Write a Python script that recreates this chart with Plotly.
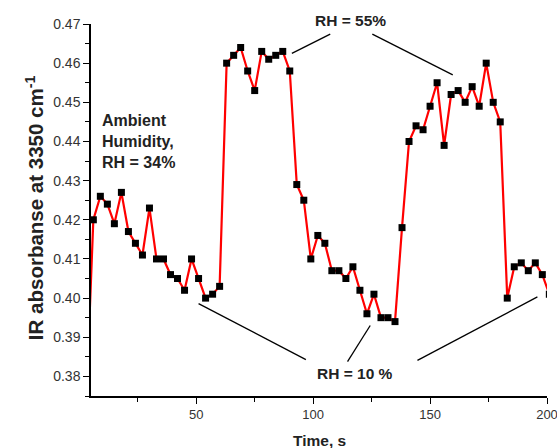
import plotly.graph_objects as go

time_s = [3, 6, 9, 12, 15, 18, 21, 24, 27, 30, 33, 36, 39, 42, 45, 48, 51, 54, 57, 60,
          63, 66, 69, 72, 75, 78, 81, 84, 87, 90, 93, 96, 99, 102, 105, 108, 111, 114,
          117, 120, 123, 126, 129, 132, 135, 138, 141, 144, 147, 150, 153, 156, 159, 162,
          165, 168, 171, 174, 177, 180, 183, 186, 189, 192, 195, 198, 201]
absorbance = [0.374, 0.420, 0.426, 0.424, 0.419, 0.427, 0.417, 0.414, 0.411, 0.423,
              0.410, 0.410, 0.406, 0.405, 0.402, 0.410, 0.405, 0.400, 0.401, 0.403,
              0.460, 0.462, 0.464, 0.458, 0.453, 0.463, 0.461, 0.462, 0.463, 0.458,
              0.429, 0.425, 0.410, 0.416, 0.414, 0.407, 0.407, 0.405, 0.408, 0.402,
              0.396, 0.401, 0.395, 0.395, 0.394, 0.418, 0.440, 0.444, 0.443, 0.449,
              0.455, 0.439, 0.452, 0.453, 0.450, 0.454, 0.449, 0.460, 0.450, 0.445,
              0.400, 0.408, 0.409, 0.407, 0.409, 0.406, 0.401]

x_ticks = [50, 100, 150, 200]
y_ticks = [0.38, 0.39, 0.40, 0.41, 0.42, 0.43, 0.44, 0.45, 0.46, 0.47]
y_tick_labels = ["0.38", "0.39", "0.40", "0.41", "0.42", "0.43", "0.44", "0.45", "0.46", "0.47"]

FONT = "Liberation Sans, Arial, sans-serif"

fig = go.Figure()
fig.add_trace(go.Scatter(
    x=time_s, y=absorbance, mode="lines+markers",
    line=dict(color="#ff0000", width=2.2),
    marker=dict(symbol="square", size=7, color="black"),
    showlegend=False,
))

# annotation leader lines
lines = [
    (107.3, 0.4674, 90.9, 0.4625),
    (125.3, 0.4674, 159.7, 0.4570),
    (51.0, 0.3986, 96.9, 0.3843),
    (124.4, 0.3930, 114.7, 0.3838),
    (195.9, 0.4003, 144.6, 0.3841),
]
for x0, y0, x1, y1 in lines:
    fig.add_shape(type="line", xref="x", yref="y", x0=x0, y0=y0, x1=x1, y1=y1,
                  line=dict(color="black", width=1.3))

fig.add_annotation(x=116.1, y=1.009, xref="x", yref="paper", text="<b>RH = 55%</b>",
                   showarrow=False, font=dict(size=15.5, color="#222"), xanchor="center", yanchor="middle")
fig.add_annotation(x=118, y=0.3807, xref="x", yref="y", text="<b>RH = 10 %</b>",
                   showarrow=False, font=dict(size=15.5, color="#222"), xanchor="center", yanchor="middle")
fig.add_annotation(x=9.0, y=0.4401, xref="x", yref="y",
                   text="<b>Ambient<br>Humidity,<br>RH = 34%</b>", align="left",
                   showarrow=False, font=dict(size=16, color="#222"), xanchor="left", yanchor="middle")

# axis titles
fig.add_annotation(x=0, y=0.505, xref="paper", yref="paper", xshift=-56,
                   text="<b>IR absorbanse at 3350 cm<sup>-1</sup></b>", textangle=-90,
                   showarrow=False, font=dict(size=20.5, color="#222"), xanchor="center", yanchor="middle")
fig.add_annotation(x=0.5, y=0, xref="paper", yref="paper", yshift=-44,
                   text="<b>Time, s</b>", showarrow=False,
                   font=dict(size=15.5, color="#222"), xanchor="center", yanchor="middle")

fig.update_layout(
    width=557, height=448,
    margin=dict(l=91, r=10, t=24, b=52, autoexpand=False),
    paper_bgcolor="white", plot_bgcolor="white",
    font=dict(family=FONT, color="#333"),
    xaxis=dict(range=[5, 200], tickvals=x_ticks, ticks="outside", ticklen=6, tickwidth=1.2,
               tickcolor="black", showline=True, linecolor="black", linewidth=1.5,
               showgrid=False, zeroline=False, tickfont=dict(size=13, color="#333"),
               ticklabeloverflow="allow", automargin=False,
               minor=dict(tickvals=[25, 75, 125, 175], ticks="outside", ticklen=4,
                          tickcolor="black", showgrid=False)),
    yaxis=dict(range=[0.375, 0.47], tickvals=y_ticks, ticktext=y_tick_labels,
               ticks="outside", ticklen=6, tickwidth=1.2, tickcolor="black",
               showline=True, linecolor="black", linewidth=1.5, showgrid=False,
               zeroline=False, tickfont=dict(size=14, color="#333"), automargin=False,
               minor=dict(dtick=0.005, ticks="outside", ticklen=4, tickcolor="black",
                          showgrid=False)),
)

fig.write_html("out.html", config={"displayModeBar": False},
               post_script="document.body.style.margin='0';document.body.style.overflow='hidden';")
